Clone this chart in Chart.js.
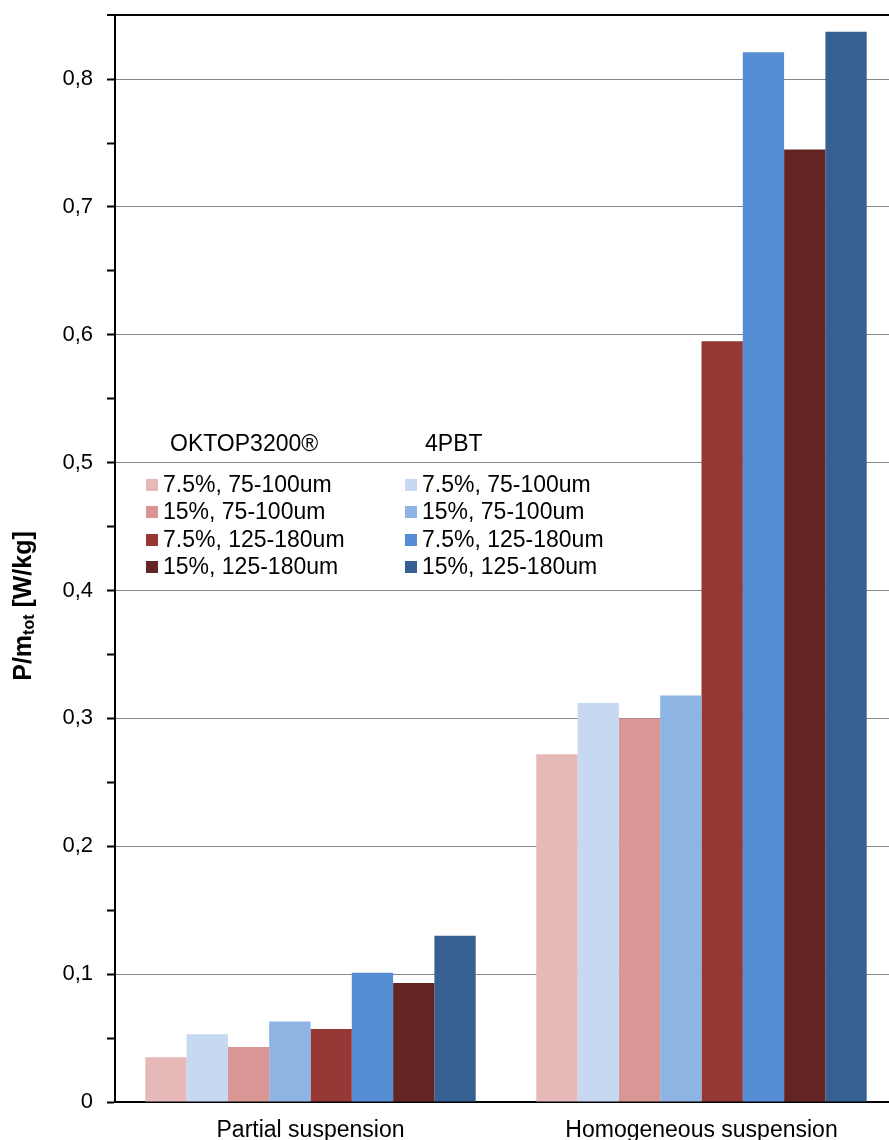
<!DOCTYPE html>
<html>
<head>
<meta charset="utf-8">
<script src="https://cdn.jsdelivr.net/npm/chart.js@4.4.0/dist/chart.umd.min.js"></script>
<style>
	body { margin: 0; overflow: hidden; background: #fff; }
	#wrap { width: 900px; height: 1152px; margin-top: -12px; }
</style>
</head>
<body>
<div id="wrap"><canvas id="bar-chart"></canvas></div>
<script>
const categories = ["Partial suspension", "Homogeneous suspension"];
const seriesNames = [
	"7.5%, 75-100um", "7.5%, 75-100um",
	"15%, 75-100um", "15%, 75-100um",
	"7.5%, 125-180um", "7.5%, 125-180um",
	"15%, 125-180um", "15%, 125-180um",
];
const seriesGroups = ["OKTOP3200®", "4PBT", "OKTOP3200®", "4PBT", "OKTOP3200®", "4PBT", "OKTOP3200®", "4PBT"];
const seriesColors = ["#e6b9b8", "#c6d9f1", "#d99694", "#8eb4e3", "#953735", "#558ed5", "#632523", "#376092"];
const oktop75_7 = [0.035, 0.272];
const pbt75_7 = [0.053, 0.312];
const oktop75_15 = [0.043, 0.300];
const pbt75_15 = [0.063, 0.318];
const oktop125_7 = [0.057, 0.595];
const pbt125_7 = [0.101, 0.821];
const oktop125_15 = [0.093, 0.745];
const pbt125_15 = [0.130, 0.837];
const seriesValues = [oktop75_7, pbt75_7, oktop75_15, pbt75_15, oktop125_7, pbt125_7, oktop125_15, pbt125_15];

const FONT = "'Liberation Sans', Arial, sans-serif";
const SHIFT = 12; // canvas is pulled up by this many pixels

const extras = {
	id: "extras",
	afterDraw(chart) {
		const ctx = chart.ctx;
		ctx.save();
		// y axis title with subscript
		ctx.translate(24, 606 + SHIFT);
		ctx.rotate(-Math.PI / 2);
		ctx.fillStyle = "#000";
		ctx.textBaseline = "middle";
		const a = "P/m", sub = "tot", b = " [W/kg]";
		ctx.font = "bold 25px " + FONT;
		const wa = ctx.measureText(a).width, wb = ctx.measureText(b).width;
		ctx.font = "bold 16px " + FONT;
		const ws = ctx.measureText(sub).width;
		let x = -(wa + ws + wb) / 2;
		ctx.font = "bold 25px " + FONT;
		ctx.fillText(a, x, 0);
		x += wa;
		ctx.font = "bold 16px " + FONT;
		ctx.fillText(sub, x, 6);
		x += ws;
		ctx.font = "bold 25px " + FONT;
		ctx.fillText(b, x, 0);
		ctx.restore();

		// legend, two columns
		ctx.save();
		ctx.font = "23px " + FONT;
		ctx.fillStyle = "#000";
		ctx.textBaseline = "middle";
		ctx.fillText("OKTOP3200®", 170, 445 + SHIFT);
		ctx.fillText("4PBT", 425, 445 + SHIFT);
		const rowsY = [485, 512, 540, 567];
		seriesNames.forEach((name, i) => {
			const col = i % 2, row = Math.floor(i / 2);
			const sx = col === 0 ? 146 : 405;
			const y = rowsY[row] + SHIFT;
			ctx.fillStyle = seriesColors[i];
			ctx.fillRect(sx, y - 6, 12, 12);
			ctx.fillStyle = "#000";
			ctx.fillText(name, sx + 17, y + 1);
		});
		ctx.restore();
	},
};

new Chart(document.getElementById("bar-chart"), {
	type: "bar",
	data: {
		labels: categories,
		datasets: seriesValues.map((vals, i) => ({
			label: seriesGroups[i] + " " + seriesNames[i],
			backgroundColor: seriesColors[i],
			data: vals,
			borderWidth: 0,
			categoryPercentage: 0.845,
			barPercentage: 1,
		})),
	},
	options: {
		responsive: true,
		maintainAspectRatio: false,
		animation: false,
		layout: { padding: { top: 3, right: 3, left: 0, bottom: 0 } },
		plugins: {
			legend: { display: false },
			title: { display: false },
			tooltip: { enabled: false },
		},
		scales: {
			x: {
				grid: { display: false, drawTicks: false },
				border: { color: "#000", width: 2 },
				ticks: { color: "#000", font: { family: FONT, size: 23 }, padding: 15, maxRotation: 0 },
				afterFit(scale) { scale.height = 38; },
			},
			y: {
				min: 0,
				max: 0.85,
				border: { color: "#000", width: 2 },
				ticks: {
					stepSize: 0.05,
					color: "#000",
					font: { family: FONT, size: 22 },
					padding: 14,
					callback(v) {
						const r = Math.round(v * 100);
						if (r % 10 !== 0) return "";
						return r === 0 ? "0" : (r / 100).toFixed(1).replace(".", ",");
					},
				},
				grid: {
					tickLength: 8,
					tickColor: "#000",
					tickWidth: 2,
					color(c) {
						const r = Math.round(c.tick.value * 100);
						if (r === 85) return "#000";
						if (r > 0 && r % 10 === 0) return "#868686";
						return "rgba(0,0,0,0)";
					},
					lineWidth(c) {
						return Math.round(c.tick.value * 100) === 85 ? 2 : 1;
					},
				},
				afterFit(scale) { scale.width = 115; },
			},
		},
	},
	plugins: [extras],
});
</script>
</body>
</html>
